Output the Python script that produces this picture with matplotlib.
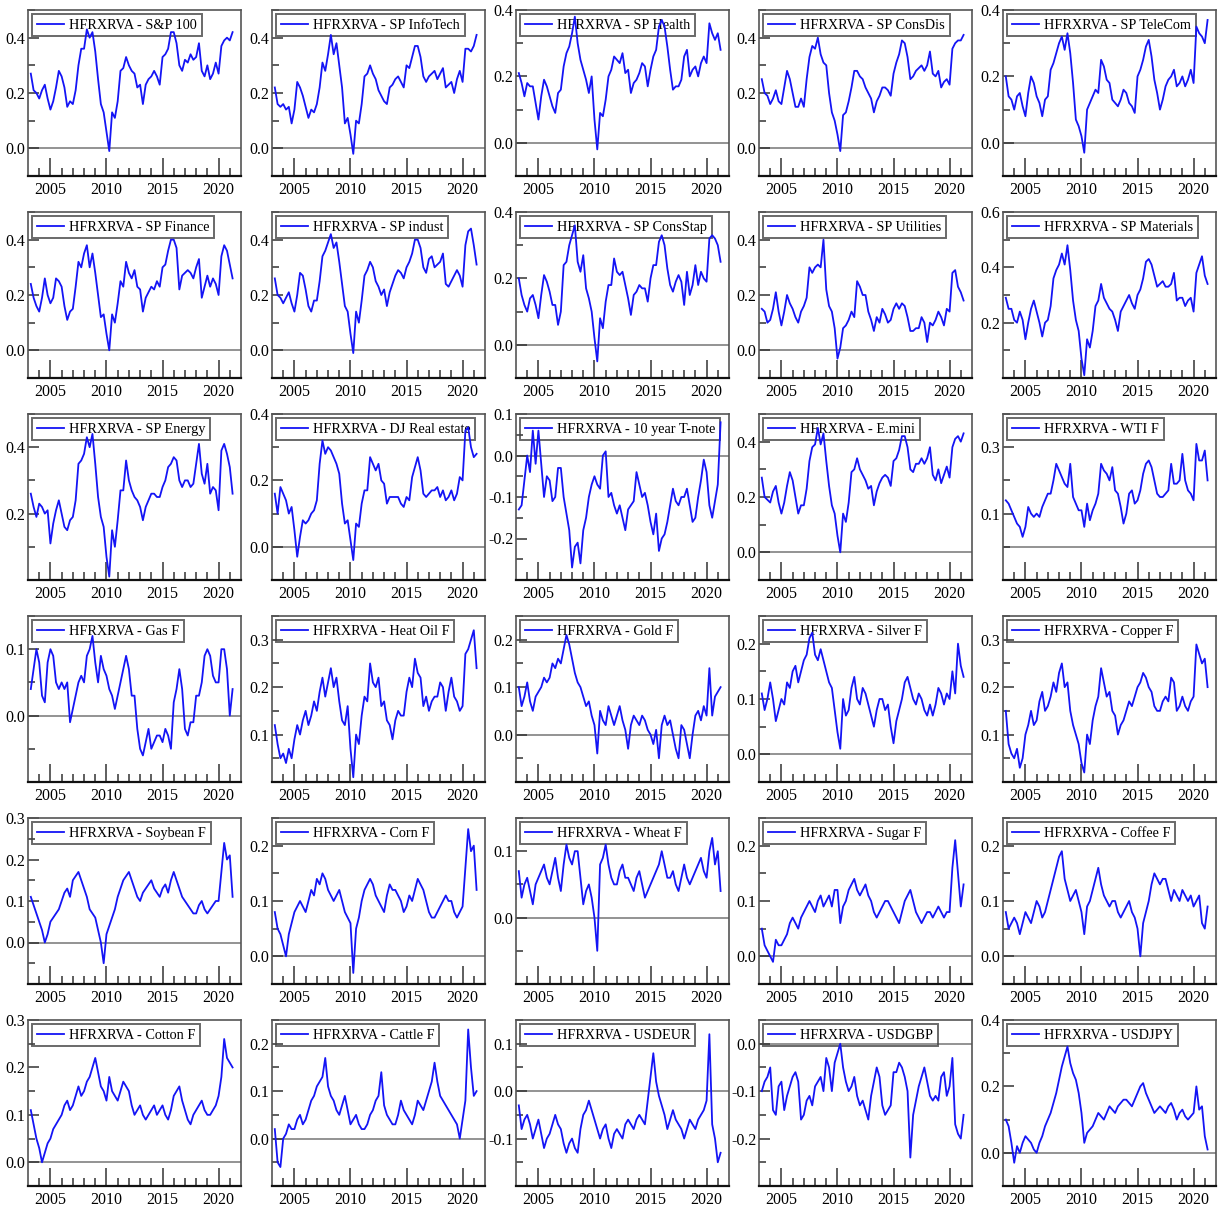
import numpy as np
import matplotlib.pyplot as plt
from matplotlib.ticker import FixedLocator, FormatStrFormatter

plt.rcParams['font.family'] = ['Liberation Serif', 'DejaVu Serif']
plt.rcParams['axes.unicode_minus'] = False

# observaciones trimestrales, 2003.25 .. 2021.25
fechas = np.arange(2003.25, 2021.26, 0.25)

sp100 = [0.27, 0.21, 0.20, 0.18, 0.21, 0.23, 0.18, 0.14, 0.17, 0.22, 0.28, 0.26, 0.22, 0.15, 0.17,
         0.16, 0.21, 0.30, 0.36, 0.36, 0.43, 0.40, 0.42, 0.35, 0.25, 0.16, 0.13, 0.06, -0.01, 0.13, 0.11,
         0.17, 0.28, 0.29, 0.33, 0.30, 0.28, 0.27, 0.22, 0.23, 0.16, 0.23, 0.25, 0.26, 0.28, 0.26, 0.23,
         0.33, 0.34, 0.36, 0.42, 0.42, 0.38, 0.30, 0.28, 0.32, 0.31, 0.34, 0.32, 0.33, 0.38, 0.28, 0.26,
         0.30, 0.25, 0.27, 0.31, 0.27, 0.37, 0.39, 0.40, 0.39, 0.42]
sp_infotech = [0.22, 0.16, 0.15, 0.16, 0.14, 0.15, 0.09, 0.14, 0.24, 0.22, 0.19, 0.15, 0.11, 0.14, 0.13,
               0.16, 0.22, 0.31, 0.28, 0.34, 0.41, 0.34, 0.38, 0.30, 0.22, 0.09, 0.11, 0.05, -0.02, 0.10, 0.09,
               0.16, 0.26, 0.27, 0.30, 0.27, 0.25, 0.21, 0.19, 0.17, 0.16, 0.22, 0.23, 0.25, 0.26, 0.24, 0.22,
               0.30, 0.29, 0.33, 0.37, 0.37, 0.33, 0.26, 0.24, 0.26, 0.27, 0.28, 0.25, 0.27, 0.29, 0.22, 0.23,
               0.24, 0.20, 0.25, 0.28, 0.24, 0.36, 0.36, 0.35, 0.37, 0.41]
sp_health = [0.21, 0.18, 0.14, 0.18, 0.17, 0.17, 0.12, 0.07, 0.14, 0.19, 0.17, 0.14, 0.11, 0.09, 0.15,
             0.16, 0.23, 0.27, 0.29, 0.33, 0.38, 0.30, 0.25, 0.22, 0.19, 0.15, 0.20, 0.07, -0.02, 0.09, 0.08,
             0.13, 0.20, 0.22, 0.26, 0.25, 0.24, 0.27, 0.21, 0.22, 0.15, 0.18, 0.19, 0.21, 0.24, 0.23, 0.17,
             0.22, 0.26, 0.28, 0.35, 0.37, 0.35, 0.29, 0.22, 0.16, 0.17, 0.17, 0.19, 0.26, 0.28, 0.20, 0.22,
             0.23, 0.20, 0.24, 0.26, 0.24, 0.36, 0.33, 0.31, 0.33, 0.28]
sp_consdis = [0.25, 0.20, 0.19, 0.16, 0.18, 0.21, 0.17, 0.16, 0.22, 0.28, 0.25, 0.20, 0.15, 0.15, 0.18,
              0.15, 0.25, 0.33, 0.37, 0.36, 0.40, 0.34, 0.31, 0.30, 0.20, 0.13, 0.10, 0.05, -0.01, 0.12, 0.13,
              0.17, 0.22, 0.28, 0.28, 0.26, 0.25, 0.22, 0.20, 0.18, 0.13, 0.17, 0.19, 0.22, 0.22, 0.21, 0.19,
              0.27, 0.31, 0.34, 0.39, 0.38, 0.33, 0.25, 0.26, 0.28, 0.29, 0.30, 0.28, 0.30, 0.35, 0.27, 0.26,
              0.28, 0.22, 0.24, 0.25, 0.23, 0.36, 0.38, 0.39, 0.39, 0.41]
sp_telecom = [0.20, 0.14, 0.13, 0.10, 0.14, 0.15, 0.11, 0.08, 0.15, 0.20, 0.18, 0.14, 0.12, 0.08, 0.13,
              0.14, 0.22, 0.24, 0.27, 0.30, 0.32, 0.28, 0.33, 0.27, 0.18, 0.07, 0.05, 0.02, -0.03, 0.10, 0.12,
              0.14, 0.16, 0.15, 0.25, 0.23, 0.19, 0.18, 0.13, 0.12, 0.11, 0.13, 0.16, 0.15, 0.12, 0.11, 0.09,
              0.20, 0.22, 0.25, 0.29, 0.31, 0.26, 0.19, 0.15, 0.10, 0.13, 0.17, 0.19, 0.20, 0.22, 0.17, 0.18,
              0.20, 0.17, 0.19, 0.22, 0.18, 0.35, 0.33, 0.32, 0.30, 0.37]
sp_finance = [0.24, 0.19, 0.16, 0.14, 0.19, 0.26, 0.20, 0.17, 0.19, 0.26, 0.25, 0.23, 0.16, 0.11, 0.14,
              0.15, 0.23, 0.32, 0.30, 0.35, 0.38, 0.30, 0.35, 0.28, 0.20, 0.12, 0.13, 0.06, 0.00, 0.13, 0.10,
              0.17, 0.25, 0.23, 0.32, 0.28, 0.26, 0.29, 0.23, 0.22, 0.14, 0.19, 0.21, 0.23, 0.22, 0.25, 0.23,
              0.30, 0.31, 0.36, 0.40, 0.40, 0.37, 0.22, 0.27, 0.28, 0.29, 0.28, 0.26, 0.30, 0.33, 0.19, 0.23,
              0.27, 0.23, 0.26, 0.24, 0.20, 0.34, 0.38, 0.36, 0.31, 0.26]
sp_indust = [0.26, 0.20, 0.19, 0.17, 0.19, 0.21, 0.17, 0.14, 0.20, 0.28, 0.27, 0.22, 0.16, 0.14, 0.18,
             0.18, 0.25, 0.34, 0.36, 0.39, 0.42, 0.37, 0.39, 0.32, 0.24, 0.16, 0.14, 0.06, -0.01, 0.14, 0.10,
             0.18, 0.27, 0.29, 0.32, 0.30, 0.25, 0.23, 0.20, 0.22, 0.16, 0.21, 0.24, 0.27, 0.29, 0.28, 0.26,
             0.30, 0.32, 0.35, 0.40, 0.40, 0.37, 0.30, 0.28, 0.33, 0.34, 0.30, 0.31, 0.32, 0.35, 0.24, 0.23,
             0.25, 0.27, 0.29, 0.27, 0.23, 0.38, 0.43, 0.44, 0.38, 0.31]
sp_consstap = [0.20, 0.15, 0.12, 0.10, 0.14, 0.15, 0.12, 0.08, 0.15, 0.21, 0.19, 0.16, 0.12, 0.12, 0.06,
               0.10, 0.24, 0.25, 0.30, 0.33, 0.36, 0.25, 0.22, 0.27, 0.17, 0.14, 0.10, 0.02, -0.05, 0.08, 0.05,
               0.13, 0.18, 0.18, 0.26, 0.22, 0.21, 0.22, 0.18, 0.14, 0.09, 0.15, 0.16, 0.18, 0.17, 0.17, 0.13,
               0.20, 0.24, 0.24, 0.31, 0.33, 0.30, 0.23, 0.18, 0.16, 0.19, 0.21, 0.19, 0.12, 0.22, 0.15, 0.18,
               0.24, 0.18, 0.22, 0.20, 0.19, 0.32, 0.33, 0.32, 0.30, 0.25]
sp_utilities = [0.15, 0.14, 0.10, 0.11, 0.15, 0.21, 0.14, 0.09, 0.14, 0.20, 0.17, 0.15, 0.12, 0.10, 0.14,
                0.16, 0.19, 0.30, 0.28, 0.30, 0.31, 0.30, 0.40, 0.22, 0.16, 0.14, 0.08, -0.03, 0.01, 0.08, 0.09,
                0.11, 0.14, 0.12, 0.25, 0.23, 0.20, 0.20, 0.14, 0.11, 0.07, 0.12, 0.10, 0.15, 0.13, 0.10, 0.11,
                0.15, 0.17, 0.15, 0.17, 0.16, 0.12, 0.07, 0.07, 0.08, 0.08, 0.12, 0.10, 0.03, 0.10, 0.09, 0.11,
                0.14, 0.12, 0.09, 0.15, 0.14, 0.28, 0.29, 0.23, 0.21, 0.18]
sp_materials = [0.29, 0.25, 0.25, 0.21, 0.20, 0.24, 0.21, 0.14, 0.20, 0.25, 0.28, 0.24, 0.20, 0.15, 0.20,
                0.21, 0.26, 0.36, 0.39, 0.41, 0.45, 0.41, 0.48, 0.39, 0.28, 0.21, 0.17, 0.07, 0.01, 0.14, 0.11,
                0.17, 0.26, 0.28, 0.34, 0.29, 0.27, 0.25, 0.24, 0.21, 0.17, 0.24, 0.26, 0.28, 0.30, 0.27, 0.25,
                0.30, 0.32, 0.36, 0.42, 0.43, 0.41, 0.37, 0.33, 0.34, 0.35, 0.33, 0.33, 0.34, 0.38, 0.28, 0.29,
                0.29, 0.26, 0.28, 0.29, 0.24, 0.38, 0.41, 0.44, 0.37, 0.34]
sp_energy = [0.26, 0.22, 0.19, 0.23, 0.22, 0.20, 0.21, 0.11, 0.17, 0.21, 0.24, 0.20, 0.16, 0.15, 0.18,
             0.19, 0.24, 0.35, 0.36, 0.38, 0.43, 0.40, 0.44, 0.35, 0.25, 0.19, 0.16, 0.07, 0.01, 0.15, 0.10,
             0.18, 0.27, 0.27, 0.36, 0.30, 0.27, 0.25, 0.24, 0.22, 0.18, 0.22, 0.24, 0.26, 0.26, 0.25, 0.25,
             0.28, 0.30, 0.34, 0.35, 0.37, 0.36, 0.30, 0.28, 0.30, 0.30, 0.28, 0.29, 0.35, 0.41, 0.32, 0.29,
             0.35, 0.26, 0.28, 0.27, 0.21, 0.39, 0.41, 0.38, 0.34, 0.26]
dj_realestate = [0.16, 0.10, 0.18, 0.16, 0.14, 0.10, 0.12, 0.05, -0.03, 0.03, 0.08, 0.07, 0.08, 0.10, 0.11,
                 0.14, 0.25, 0.32, 0.28, 0.30, 0.29, 0.27, 0.25, 0.22, 0.13, 0.07, 0.08, 0.02, -0.04, 0.07, 0.06,
                 0.13, 0.17, 0.17, 0.27, 0.25, 0.23, 0.25, 0.20, 0.19, 0.13, 0.15, 0.15, 0.15, 0.15, 0.13, 0.12,
                 0.15, 0.14, 0.21, 0.24, 0.27, 0.23, 0.16, 0.15, 0.16, 0.17, 0.17, 0.18, 0.15, 0.17, 0.14, 0.15,
                 0.17, 0.14, 0.16, 0.21, 0.20, 0.35, 0.36, 0.30, 0.27, 0.28]
tnote10 = [-0.13, -0.12, -0.06, 0.00, -0.04, 0.06, -0.02, 0.06, -0.02, -0.10, -0.05, -0.06, -0.11, -0.10, -0.03,
           -0.03, -0.10, -0.14, -0.18, -0.27, -0.22, -0.21, -0.26, -0.18, -0.15, -0.10, -0.07, -0.05, -0.07, -0.08, 0.00,
           0.01, -0.10, -0.09, -0.12, -0.14, -0.12, -0.15, -0.18, -0.13, -0.12, -0.11, -0.04, -0.07, -0.10, -0.09, -0.12,
           -0.16, -0.19, -0.14, -0.23, -0.20, -0.19, -0.16, -0.12, -0.08, -0.11, -0.12, -0.10, -0.10, -0.08, -0.12, -0.16,
           -0.15, -0.10, -0.06, -0.01, -0.04, -0.12, -0.15, -0.11, -0.07, 0.08]
emini = [0.27, 0.20, 0.19, 0.18, 0.22, 0.24, 0.18, 0.14, 0.18, 0.24, 0.29, 0.26, 0.20, 0.14, 0.17,
         0.17, 0.23, 0.33, 0.38, 0.39, 0.45, 0.39, 0.43, 0.33, 0.24, 0.17, 0.14, 0.06, 0.00, 0.14, 0.11,
         0.18, 0.29, 0.30, 0.34, 0.30, 0.28, 0.26, 0.23, 0.24, 0.17, 0.22, 0.25, 0.27, 0.28, 0.27, 0.24,
         0.33, 0.34, 0.37, 0.42, 0.42, 0.38, 0.30, 0.29, 0.32, 0.32, 0.34, 0.32, 0.34, 0.38, 0.28, 0.26,
         0.30, 0.25, 0.28, 0.31, 0.27, 0.38, 0.41, 0.42, 0.40, 0.43]
wti = [0.14, 0.13, 0.11, 0.09, 0.07, 0.06, 0.03, 0.06, 0.12, 0.10, 0.09, 0.10, 0.09, 0.12, 0.14,
       0.16, 0.16, 0.20, 0.25, 0.23, 0.21, 0.19, 0.18, 0.25, 0.15, 0.13, 0.11, 0.11, 0.06, 0.13, 0.08,
       0.11, 0.13, 0.16, 0.25, 0.23, 0.22, 0.20, 0.24, 0.17, 0.16, 0.12, 0.07, 0.10, 0.16, 0.17, 0.13,
       0.14, 0.17, 0.22, 0.25, 0.26, 0.24, 0.20, 0.16, 0.15, 0.15, 0.16, 0.17, 0.25, 0.19, 0.19, 0.20,
       0.28, 0.20, 0.17, 0.16, 0.14, 0.31, 0.26, 0.26, 0.29, 0.20]
gas = [0.04, 0.07, 0.10, 0.08, 0.03, 0.02, 0.08, 0.10, 0.09, 0.05, 0.04, 0.05, 0.04, 0.05, -0.01,
       0.01, 0.03, 0.05, 0.06, 0.05, 0.09, 0.10, 0.12, 0.08, 0.05, 0.09, 0.07, 0.06, 0.04, 0.03, 0.01,
       0.03, 0.05, 0.07, 0.09, 0.07, 0.03, 0.03, -0.02, -0.05, -0.06, -0.04, -0.02, -0.05, -0.04, -0.03, -0.03,
       -0.04, -0.02, -0.03, -0.05, 0.02, 0.04, 0.07, 0.04, -0.02, -0.03, -0.01, -0.01, 0.03, 0.03, 0.05, 0.09,
       0.10, 0.09, 0.06, 0.05, 0.05, 0.10, 0.10, 0.07, 0.00, 0.04]
heat_oil = [0.12, 0.08, 0.05, 0.06, 0.04, 0.07, 0.05, 0.09, 0.12, 0.10, 0.13, 0.15, 0.12, 0.14, 0.17,
            0.15, 0.19, 0.22, 0.18, 0.21, 0.24, 0.20, 0.22, 0.17, 0.13, 0.12, 0.16, 0.07, 0.01, 0.10, 0.08,
            0.14, 0.18, 0.17, 0.25, 0.21, 0.20, 0.22, 0.16, 0.17, 0.13, 0.12, 0.09, 0.13, 0.15, 0.14, 0.14,
            0.19, 0.22, 0.20, 0.26, 0.23, 0.22, 0.16, 0.18, 0.15, 0.17, 0.18, 0.18, 0.21, 0.20, 0.15, 0.19,
            0.22, 0.18, 0.17, 0.15, 0.16, 0.27, 0.28, 0.30, 0.32, 0.24]
gold = [0.10, 0.06, 0.08, 0.11, 0.07, 0.05, 0.08, 0.09, 0.10, 0.12, 0.11, 0.12, 0.15, 0.14, 0.16,
        0.15, 0.18, 0.21, 0.19, 0.16, 0.13, 0.11, 0.10, 0.08, 0.06, 0.07, 0.04, 0.02, -0.04, 0.05, 0.03,
        0.02, 0.06, 0.04, 0.02, 0.04, 0.06, 0.03, 0.01, -0.03, 0.02, 0.04, 0.03, 0.02, 0.04, 0.03, 0.01,
        0.00, -0.02, 0.01, -0.05, 0.02, 0.04, 0.02, 0.03, 0.00, -0.03, -0.05, 0.02, 0.01, -0.02, -0.05, 0.00,
        0.04, 0.05, 0.03, 0.06, 0.04, 0.14, 0.04, 0.08, 0.09, 0.10]
silver = [0.11, 0.08, 0.10, 0.13, 0.10, 0.06, 0.08, 0.10, 0.09, 0.13, 0.12, 0.15, 0.16, 0.13, 0.15,
          0.17, 0.18, 0.21, 0.22, 0.18, 0.17, 0.19, 0.17, 0.15, 0.13, 0.12, 0.08, 0.04, 0.01, 0.10, 0.07,
          0.08, 0.12, 0.14, 0.10, 0.09, 0.12, 0.11, 0.09, 0.07, 0.05, 0.08, 0.10, 0.10, 0.08, 0.09, 0.05,
          0.02, 0.06, 0.08, 0.10, 0.13, 0.14, 0.12, 0.10, 0.09, 0.11, 0.10, 0.08, 0.07, 0.09, 0.07, 0.09,
          0.12, 0.11, 0.09, 0.11, 0.10, 0.15, 0.11, 0.20, 0.16, 0.14]
copper = [0.15, 0.08, 0.06, 0.05, 0.07, 0.03, 0.05, 0.10, 0.12, 0.15, 0.12, 0.13, 0.17, 0.19, 0.15,
          0.16, 0.18, 0.21, 0.19, 0.23, 0.25, 0.20, 0.21, 0.15, 0.12, 0.10, 0.08, 0.04, 0.02, 0.10, 0.08,
          0.13, 0.16, 0.18, 0.24, 0.21, 0.18, 0.19, 0.15, 0.14, 0.10, 0.12, 0.13, 0.15, 0.17, 0.16, 0.18,
          0.20, 0.21, 0.23, 0.22, 0.20, 0.19, 0.16, 0.15, 0.15, 0.17, 0.18, 0.17, 0.22, 0.21, 0.15, 0.16,
          0.18, 0.16, 0.15, 0.17, 0.18, 0.29, 0.27, 0.25, 0.26, 0.20]
soybean = [0.11, 0.09, 0.07, 0.05, 0.03, 0.00, 0.02, 0.05, 0.06, 0.07, 0.08, 0.10, 0.12, 0.13, 0.11,
           0.15, 0.16, 0.17, 0.15, 0.13, 0.11, 0.08, 0.07, 0.06, 0.03, 0.00, -0.05, 0.02, 0.04, 0.06, 0.08,
           0.11, 0.13, 0.15, 0.16, 0.17, 0.15, 0.13, 0.11, 0.10, 0.12, 0.13, 0.14, 0.15, 0.13, 0.12, 0.11,
           0.13, 0.14, 0.12, 0.15, 0.17, 0.15, 0.13, 0.11, 0.10, 0.09, 0.08, 0.07, 0.07, 0.09, 0.10, 0.08,
           0.07, 0.08, 0.09, 0.10, 0.10, 0.17, 0.24, 0.20, 0.21, 0.11]
corn = [0.08, 0.05, 0.04, 0.02, 0.00, 0.04, 0.06, 0.08, 0.09, 0.10, 0.09, 0.08, 0.10, 0.12, 0.11,
        0.14, 0.13, 0.15, 0.14, 0.12, 0.11, 0.10, 0.11, 0.12, 0.10, 0.08, 0.07, 0.06, -0.03, 0.05, 0.07,
        0.10, 0.12, 0.13, 0.14, 0.13, 0.11, 0.10, 0.09, 0.08, 0.11, 0.13, 0.12, 0.12, 0.11, 0.10, 0.08,
        0.09, 0.11, 0.10, 0.12, 0.14, 0.13, 0.12, 0.10, 0.08, 0.07, 0.07, 0.08, 0.09, 0.10, 0.11, 0.10,
        0.10, 0.08, 0.07, 0.08, 0.09, 0.16, 0.23, 0.19, 0.20, 0.12]
wheat = [0.07, 0.03, 0.05, 0.06, 0.04, 0.02, 0.05, 0.06, 0.07, 0.08, 0.06, 0.05, 0.07, 0.09, 0.06,
         0.04, 0.08, 0.11, 0.09, 0.08, 0.10, 0.10, 0.06, 0.02, 0.04, 0.05, 0.03, 0.00, -0.05, 0.08, 0.09,
         0.11, 0.08, 0.06, 0.05, 0.05, 0.07, 0.08, 0.06, 0.06, 0.05, 0.04, 0.06, 0.07, 0.05, 0.03, 0.04,
         0.05, 0.06, 0.07, 0.08, 0.10, 0.08, 0.06, 0.06, 0.07, 0.05, 0.04, 0.06, 0.08, 0.06, 0.05, 0.06,
         0.07, 0.08, 0.09, 0.07, 0.06, 0.10, 0.12, 0.08, 0.10, 0.04]
sugar = [0.05, 0.02, 0.01, 0.00, -0.01, 0.03, 0.02, 0.02, 0.03, 0.04, 0.06, 0.07, 0.06, 0.05, 0.07,
         0.08, 0.09, 0.10, 0.09, 0.08, 0.10, 0.11, 0.09, 0.10, 0.11, 0.09, 0.12, 0.12, 0.06, 0.09, 0.10,
         0.12, 0.13, 0.14, 0.12, 0.11, 0.12, 0.13, 0.11, 0.10, 0.08, 0.07, 0.08, 0.09, 0.10, 0.10, 0.09,
         0.08, 0.07, 0.06, 0.08, 0.10, 0.11, 0.12, 0.10, 0.08, 0.07, 0.06, 0.07, 0.08, 0.08, 0.07, 0.08,
         0.09, 0.08, 0.07, 0.08, 0.08, 0.16, 0.21, 0.15, 0.09, 0.13]
coffee = [0.08, 0.05, 0.06, 0.07, 0.06, 0.04, 0.06, 0.08, 0.07, 0.06, 0.08, 0.10, 0.09, 0.07, 0.08,
          0.10, 0.12, 0.14, 0.16, 0.18, 0.19, 0.14, 0.12, 0.10, 0.11, 0.12, 0.10, 0.08, 0.04, 0.09, 0.10,
          0.12, 0.14, 0.16, 0.13, 0.11, 0.10, 0.09, 0.10, 0.10, 0.08, 0.07, 0.08, 0.09, 0.10, 0.08, 0.07,
          0.05, 0.00, 0.06, 0.08, 0.10, 0.13, 0.15, 0.14, 0.13, 0.14, 0.14, 0.12, 0.10, 0.12, 0.11, 0.10,
          0.12, 0.11, 0.10, 0.11, 0.09, 0.10, 0.11, 0.06, 0.05, 0.09]
cotton = [0.11, 0.08, 0.05, 0.03, 0.00, 0.02, 0.04, 0.05, 0.07, 0.08, 0.09, 0.10, 0.12, 0.13, 0.11,
          0.12, 0.14, 0.16, 0.14, 0.15, 0.17, 0.18, 0.20, 0.22, 0.19, 0.16, 0.15, 0.13, 0.18, 0.15, 0.14,
          0.13, 0.15, 0.17, 0.16, 0.15, 0.12, 0.10, 0.11, 0.12, 0.10, 0.09, 0.10, 0.11, 0.12, 0.10, 0.11,
          0.12, 0.10, 0.09, 0.11, 0.14, 0.15, 0.16, 0.13, 0.11, 0.09, 0.08, 0.10, 0.11, 0.12, 0.13, 0.11,
          0.10, 0.10, 0.11, 0.12, 0.14, 0.18, 0.26, 0.22, 0.21, 0.20]
cattle = [0.02, -0.05, -0.06, 0.00, 0.01, 0.03, 0.02, 0.02, 0.04, 0.05, 0.03, 0.04, 0.06, 0.08, 0.09,
          0.11, 0.12, 0.13, 0.17, 0.11, 0.09, 0.08, 0.06, 0.05, 0.07, 0.09, 0.06, 0.03, 0.04, 0.05, 0.03,
          0.02, 0.02, 0.03, 0.05, 0.06, 0.08, 0.09, 0.14, 0.07, 0.05, 0.04, 0.03, 0.03, 0.05, 0.08, 0.06,
          0.05, 0.04, 0.03, 0.05, 0.08, 0.07, 0.06, 0.08, 0.10, 0.12, 0.16, 0.12, 0.09, 0.08, 0.07, 0.06,
          0.05, 0.04, 0.03, 0.00, 0.04, 0.08, 0.23, 0.15, 0.09, 0.10]
usdeur = [-0.03, -0.08, -0.06, -0.05, -0.07, -0.10, -0.08, -0.06, -0.09, -0.12, -0.10, -0.09, -0.07, -0.05, -0.07,
          -0.08, -0.11, -0.13, -0.11, -0.10, -0.12, -0.13, -0.08, -0.05, -0.04, -0.02, -0.04, -0.06, -0.08, -0.10, -0.08,
          -0.07, -0.10, -0.12, -0.09, -0.08, -0.09, -0.10, -0.07, -0.06, -0.07, -0.08, -0.06, -0.05, -0.06, -0.07, -0.02,
          0.03, 0.08, 0.02, -0.01, -0.03, -0.05, -0.08, -0.06, -0.04, -0.06, -0.07, -0.08, -0.10, -0.08, -0.06, -0.07,
          -0.08, -0.06, -0.05, -0.04, -0.02, 0.12, -0.07, -0.10, -0.15, -0.13]
usdgbp = [-0.10, -0.08, -0.07, -0.05, -0.14, -0.15, -0.09, -0.08, -0.14, -0.11, -0.09, -0.07, -0.06, -0.08, -0.16,
          -0.15, -0.12, -0.11, -0.13, -0.09, -0.08, -0.07, -0.10, -0.03, -0.05, -0.10, -0.04, -0.02, 0.00, -0.05, -0.08,
          -0.10, -0.09, -0.07, -0.11, -0.13, -0.12, -0.14, -0.16, -0.11, -0.08, -0.05, -0.07, -0.13, -0.15, -0.14, -0.13,
          -0.06, -0.06, -0.04, -0.05, -0.07, -0.10, -0.24, -0.15, -0.12, -0.09, -0.07, -0.05, -0.08, -0.11, -0.12, -0.11,
          -0.12, -0.07, -0.06, -0.11, -0.09, -0.03, -0.17, -0.19, -0.20, -0.15]
usdjpy = [0.10, 0.08, 0.03, -0.03, 0.02, 0.00, 0.03, 0.05, 0.04, 0.03, 0.01, 0.00, 0.03, 0.05, 0.08,
          0.10, 0.12, 0.15, 0.18, 0.22, 0.26, 0.29, 0.32, 0.27, 0.24, 0.22, 0.18, 0.12, 0.03, 0.06, 0.07,
          0.08, 0.10, 0.12, 0.11, 0.10, 0.12, 0.14, 0.13, 0.12, 0.14, 0.15, 0.16, 0.16, 0.15, 0.14, 0.16,
          0.18, 0.20, 0.21, 0.18, 0.16, 0.14, 0.12, 0.13, 0.14, 0.13, 0.12, 0.14, 0.15, 0.13, 0.10, 0.12,
          0.13, 0.11, 0.10, 0.11, 0.12, 0.20, 0.13, 0.14, 0.05, 0.01]

nombres = ['S&P 100', 'SP InfoTech', 'SP Health', 'SP ConsDis', 'SP TeleCom',
           'SP Finance', 'SP indust', 'SP ConsStap', 'SP Utilities', 'SP Materials',
           'SP Energy', 'DJ Real estate', '10 year T-note', 'E.mini', 'WTI F',
           'Gas F', 'Heat Oil F', 'Gold F', 'Silver F', 'Copper F',
           'Soybean F', 'Corn F', 'Wheat F', 'Sugar F', 'Coffee F',
           'Cotton F', 'Cattle F', 'USDEUR', 'USDGBP', 'USDJPY']
series = [sp100, sp_infotech, sp_health, sp_consdis, sp_telecom,
          sp_finance, sp_indust, sp_consstap, sp_utilities, sp_materials,
          sp_energy, dj_realestate, tnote10, emini, wti,
          gas, heat_oil, gold, silver, copper,
          soybean, corn, wheat, sugar, coffee,
          cotton, cattle, usdeur, usdgbp, usdjpy]

# (ymin, ymax, primer tick etiquetado, paso)
ejes_y = [(-0.1, 0.5, 0.0, 0.2), (-0.1, 0.5, 0.0, 0.2), (-0.1, 0.4, 0.0, 0.2), (-0.1, 0.5, 0.0, 0.2), (-0.1, 0.4, 0.0, 0.2),
          (-0.1, 0.5, 0.0, 0.2), (-0.1, 0.5, 0.0, 0.2), (-0.1, 0.4, 0.0, 0.2), (-0.1, 0.5, 0.0, 0.2), (0.0, 0.6, 0.2, 0.2),
          (0.0, 0.5, 0.2, 0.2), (-0.1, 0.4, 0.0, 0.2), (-0.3, 0.1, -0.2, 0.1), (-0.1, 0.5, 0.0, 0.2), (-0.1, 0.4, 0.1, 0.2),
          (-0.1, 0.15, 0.0, 0.1), (0.0, 0.35, 0.1, 0.1), (-0.1, 0.25, 0.0, 0.1), (-0.05, 0.25, 0.0, 0.1), (0.0, 0.35, 0.1, 0.1),
          (-0.1, 0.3, 0.0, 0.1), (-0.05, 0.25, 0.0, 0.1), (-0.1, 0.15, 0.0, 0.1), (-0.05, 0.25, 0.0, 0.1), (-0.05, 0.25, 0.0, 0.1),
          (-0.05, 0.3, 0.0, 0.1), (-0.1, 0.25, 0.0, 0.1), (-0.2, 0.15, -0.1, 0.1), (-0.3, 0.05, -0.2, 0.1), (-0.1, 0.4, 0.0, 0.2)]

W, H = 1219, 1209
col_x = [28, 272, 516, 759, 1003]
fila_y = [10, 212, 414, 616, 818, 1020]
ancho, alto = 213, 166

fig = plt.figure(figsize=(W / 100, H / 100), dpi=100)

for i, (nombre, valores, (y0, y1, t0, paso)) in enumerate(zip(nombres, series, ejes_y)):
    f, c = divmod(i, 5)
    ax = fig.add_axes([col_x[c] / W, 1 - (fila_y[f] + alto) / H, ancho / W, alto / H])
    ax.plot(fechas, valores, color='#1414f5', lw=1.3, zorder=3, label='HFRXRVA - ' + nombre)
    ax.axhline(0, color='#8a8a8a', lw=1.3, zorder=1)

    ax.set_xlim(2003.0, 2022.0)
    ax.set_ylim(y0, y1)
    ax.xaxis.set_major_locator(FixedLocator([2005, 2010, 2015, 2020]))
    ax.xaxis.set_minor_locator(FixedLocator(np.arange(2004, 2022)))
    mayores = np.round(np.arange(t0, y1 + 1e-6, paso), 3)
    menores = np.round(np.arange(t0 - paso / 2, y1 + 1e-6, paso), 3)
    ax.yaxis.set_major_locator(FixedLocator(mayores))
    ax.yaxis.set_minor_locator(FixedLocator(menores[menores >= y0 - 1e-6]))
    ax.yaxis.set_major_formatter(FormatStrFormatter('%.1f'))

    ax.tick_params(axis='both', which='both', direction='in', labelsize=11.5, width=1.1, color='#333333')
    ax.tick_params(axis='x', which='major', length=13, pad=4)
    ax.tick_params(axis='x', which='minor', length=6)
    ax.tick_params(axis='y', which='major', length=8, pad=2)
    ax.tick_params(axis='y', which='minor', length=5)

    for lado in ['top', 'right', 'left']:
        ax.spines[lado].set_color('#555555')
        ax.spines[lado].set_linewidth(1.2)
    ax.spines['bottom'].set_color('#111111')
    ax.spines['bottom'].set_linewidth(1.6)

    leg = ax.legend(loc='upper left', fontsize=10.3, frameon=True, fancybox=False,
                    handlelength=1.9, handletextpad=0.4, borderpad=0.3, borderaxespad=0.3)
    leg.get_frame().set_edgecolor('#444444')
    leg.get_frame().set_linewidth(1.4)
    leg.get_frame().set_facecolor('none')
    leg.set_zorder(2)

fig.savefig('out.png', dpi=100)
